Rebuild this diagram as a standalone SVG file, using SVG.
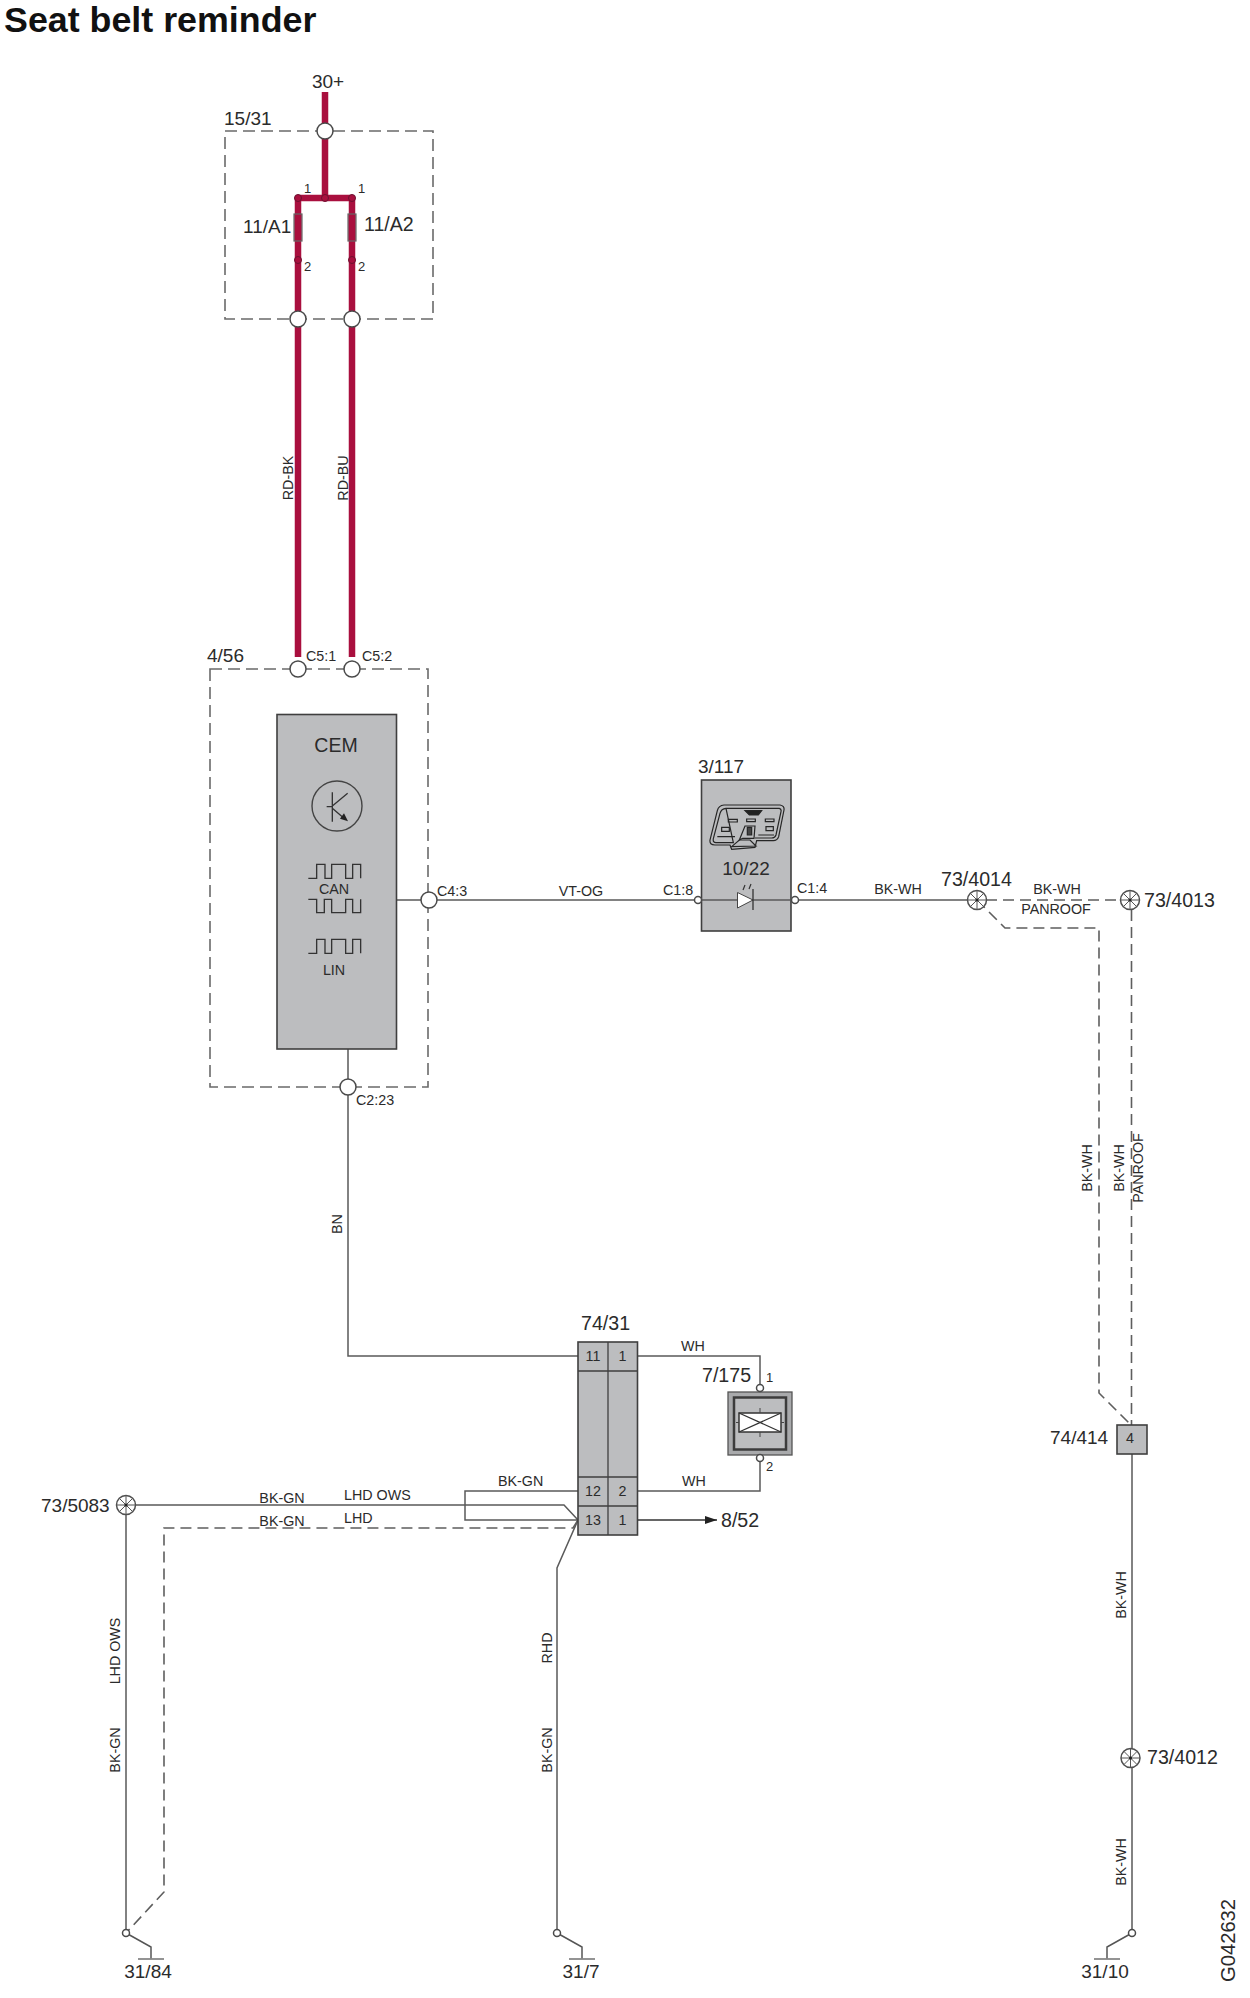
<svg xmlns="http://www.w3.org/2000/svg" xmlns:xlink="http://www.w3.org/1999/xlink" width="1250" height="1998" viewBox="0 0 1250 1998">
<style>
text{font-family:"Liberation Sans",Arial,sans-serif;fill:#2b2b2b}
.l{font-size:19px}
.ll{font-size:19.600px}
.s{font-size:14.300px}
.xs{font-size:13px}
.m{text-anchor:middle}
.w{fill:none;stroke:#5a5a5a;stroke-width:1.5}
.wk{fill:none;stroke:#333;stroke-width:1.3}
.d{fill:none;stroke:#5e5e5e;stroke-width:1.6;stroke-dasharray:11 6}
.r{fill:none;stroke:#a90f3e;stroke-width:6.500}
.b{fill:none;stroke:#6a6a6a;stroke-width:1.6;stroke-dasharray:12 6}
.g{fill:#bcbdbf;stroke:#3f3f3f;stroke-width:1.6}
.c{fill:#fff;stroke:#4a4a4a;stroke-width:1.5}
.dot{fill:#a90f3e;stroke:#6d1030;stroke-width:1}
.ic{fill:none;stroke:#333;stroke-width:4}
</style>
<defs>
<g id="star"><circle r="9.500" fill="#fff" stroke="#505050" stroke-width="1.5"/><path d="M-9.500 0H9.500M0-9.500V9.500M-6.700-6.700L6.700 6.700M-6.700 6.700L6.700-6.700" stroke="#555" stroke-width="1" fill="none"/><circle r="1.600" fill="#222"/></g>
<g id="gnd"><path d="M0 0L25 14V26" fill="none" stroke="#555" stroke-width="1.5"/><path d="M12 26H38" fill="none" stroke="#888" stroke-width="1.800"/><circle r="3.500" class="c"/></g>
<g id="gndr"><path d="M0 0L-25 14V26" fill="none" stroke="#555" stroke-width="1.5"/><path d="M-38 26H-12" fill="none" stroke="#888" stroke-width="1.800"/><circle r="3.500" class="c"/></g>
<marker id="arr" markerWidth="12" markerHeight="8" refX="12" refY="4" orient="auto" markerUnits="userSpaceOnUse"><path d="M0 0L12 4L0 8Z" fill="#222"/></marker>
<path id="wave" d="M355 745H380V703H405V745H425V703H467V745H488V703H512V745" fill="none" stroke="#333" stroke-width="4"/>
</defs>
<g id="title"><text x="4" y="32" font-size="35.800" font-weight="bold" style="fill:#111">Seat belt reminder</text></g>
<g id="connectors">
<path class="r" d="M325 92V198M298 198H352M298 198V657M352 198V657"/>
<path class="w" d="M397 900H694M799 900H968M348 1049V1356H578M638 1356H760V1385M760 1461V1491H638M578 1491H465V1520H578M135 1505H564L578 1520M578 1520L557 1568V1930M126 1514V1930M1132 1434V1749M1132 1767V1930"/>
<path class="wk" d="M638 1520H717" marker-end="url(#arr)"/>
<path class="d" d="M986 900H1120M977 900L1005 928H1099V1393L1131 1425M1131.500 910V1425M578 1520L573 1528H164V1892L126 1933"/>
</g>
<g id="n-15-31"><rect x="225" y="131" width="208" height="188" class="b"/><circle cx="325" cy="131" r="8" class="c"/><circle cx="298" cy="319" r="8" class="c"/><circle cx="352" cy="319" r="8" class="c"/><text x="224" y="125" class="l">15/31</text><text x="328" y="88" class="l m">30+</text></g>
<g id="n-fuses"><rect x="294" y="214" width="8" height="27" fill="#a90f3e" fill-opacity=".8" stroke="#666" stroke-width="1.2"/><rect x="348" y="214" width="8" height="27" fill="#a90f3e" fill-opacity=".8" stroke="#666" stroke-width="1.2"/><circle cx="298" cy="198" r="3.500" class="dot"/><circle cx="325" cy="198" r="3.500" class="dot"/><circle cx="352" cy="198" r="3.500" class="dot"/><circle cx="298" cy="260" r="3.500" class="dot"/><circle cx="352" cy="260" r="3.500" class="dot"/><text x="243" y="233" class="l">11/A1</text><text x="364" y="231" class="ll">11/A2</text><text x="304" y="193" class="xs">1</text><text x="358" y="193" class="xs">1</text><text x="304" y="271" class="xs">2</text><text x="358" y="271" class="xs">2</text></g>
<g id="wire-labels"><text transform="translate(293 478) rotate(-90)" class="s m">RD-BK</text><text transform="translate(348 478) rotate(-90)" class="s m">RD-BU</text><text transform="translate(342 1224) rotate(-90)" class="s m">BN</text><text x="581" y="896" class="s m">VT-OG</text><text x="898" y="894" class="s m">BK-WH</text><text x="1057" y="894" class="s m">BK-WH</text><text x="1056" y="914" class="s m">PANROOF</text><text transform="translate(1092 1168) rotate(-90)" class="s m">BK-WH</text><text transform="translate(1124 1168) rotate(-90)" class="s m">BK-WH</text><text transform="translate(1143 1168) rotate(-90)" class="s m">PANROOF</text><text transform="translate(1126 1595) rotate(-90)" class="s m">BK-WH</text><text transform="translate(1126 1862) rotate(-90)" class="s m">BK-WH</text><text x="681" y="1351" class="s">WH</text><text x="682" y="1486" class="s">WH</text><text x="498" y="1486" class="s">BK-GN</text><text x="282" y="1503" class="s m">BK-GN</text><text x="282" y="1526" class="s m">BK-GN</text><text x="344" y="1500" class="s">LHD OWS</text><text x="344" y="1523" class="s">LHD</text><text transform="translate(120 1651) rotate(-90)" class="s m">LHD OWS</text><text transform="translate(120 1750) rotate(-90)" class="s m">BK-GN</text><text transform="translate(552 1648) rotate(-90)" class="s m">RHD</text><text transform="translate(552 1750) rotate(-90)" class="s m">BK-GN</text></g>
<g id="n-4-56"><rect x="210" y="669" width="218" height="418" class="b"/><rect x="277" y="714.500" width="119.500" height="334.500" class="g"/><circle cx="298" cy="669" r="8" class="c"/><circle cx="352" cy="669" r="8" class="c"/><circle cx="429" cy="900" r="8" class="c"/><circle cx="348" cy="1087" r="8" class="c"/><text x="207" y="662" class="l">4/56</text><text x="306" y="661" class="s">C5:1</text><text x="362" y="661" class="s">C5:2</text><text x="437" y="896" class="s">C4:3</text><text x="356" y="1105" class="s">C2:23</text><text x="336" y="752" font-size="19.500" class="m">CEM</text><circle cx="337" cy="806" r="25" fill="none" stroke="#444" stroke-width="1.400"/><g transform="translate(190 630) scale(.3333)"><path class="ic" d="M427 487V575M410 530H427M427 528L473 490M427 535L462 565"/><path d="M450 566L462 550L474 574Z" fill="#222"/><use href="#wave"/><path d="M355 808H380V848H403V808H425V848H467V808H488V848H512V808" fill="none" stroke="#333" stroke-width="4"/><use href="#wave" y="225"/></g><text x="334" y="894" class="s m">CAN</text><text x="334" y="975" class="s m">LIN</text></g>
<g id="n-3-117"><rect x="701.500" y="780" width="89.500" height="151" class="g"/><path d="M694 900H799" class="w"/><g transform="translate(700 790) scale(.3333)" fill="none" stroke="#262626" stroke-width="3.600"><path d="M72 45H240Q254 47 252 60L236 140Q232 152 220 152H170L165 172L95 178L90 165H45Q28 165 30 150L52 62Q56 46 72 45Z"/><path d="M78 55H238Q245 57 243 65L228 135Q225 144 215 144H165M100 158H48Q38 158 40 146L60 70Q64 56 78 55Z"/><path d="M135 62H185L175 75H148Z" fill="#222"/><path d="M85 88H112V96H85ZM140 87H166V95H140ZM196 87H222V95H196ZM65 112H88V124H65ZM198 110H220V122H198ZM118 150L135 108H165L162 145H128Z"/><path d="M142 112H155V135H142Z" fill="#444"/><path d="M52 140H105M175 135H222"/><path d="M95 170L118 150H150L168 168Z"/></g><path d="M737.500 892.500V908L753 900Z" fill="#fff" stroke="#444" stroke-width="1"/><path d="M753 889V910" stroke="#333" stroke-width="1.300"/><path d="M743 890L745 885M749 889L751 884" stroke="#333" stroke-width="1.200"/><circle cx="698" cy="900" r="3.500" class="c"/><circle cx="795" cy="900" r="3.500" class="c"/><text x="663" y="895" class="s">C1:8</text><text x="797" y="893" class="s">C1:4</text><text x="698" y="773" class="l">3/117</text><text x="746" y="875" class="l m">10/22</text></g>
<g id="n-73-4014"><use href="#star" x="977" y="900"/><text x="941" y="886" class="ll">73/4014</text></g>
<g id="n-73-4013"><use href="#star" x="1130" y="900"/><text x="1144" y="907" class="ll">73/4013</text></g>
<g id="n-74-414"><rect x="1117" y="1425" width="30" height="29" class="g"/><text x="1130" y="1443" class="s m">4</text><text x="1050" y="1444" class="l">74/414</text></g>
<g id="n-73-4012"><use href="#star" x="1130.500" y="1758"/><text x="1147" y="1764" class="ll">73/4012</text></g>
<g id="n-74-31"><rect x="578" y="1342" width="59.500" height="193" class="g"/><path d="M608 1342V1535M578 1371H637M578 1477H637M578 1506H637" fill="none" stroke="#3f3f3f" stroke-width="1.300"/><text x="593" y="1361" class="s m">11</text><text x="622.500" y="1361" class="s m">1</text><text x="593" y="1496" class="s m">12</text><text x="622.500" y="1496" class="s m">2</text><text x="593" y="1525" class="s m">13</text><text x="622.500" y="1525" class="s m">1</text><text x="581" y="1330" class="ll">74/31</text><text x="721" y="1527" class="ll">8/52</text></g>
<g id="n-7-175"><rect x="728" y="1392" width="64" height="63" fill="#a9aaac" stroke="#555" stroke-width="1.300"/><rect x="734" y="1397.500" width="52" height="52" fill="#bcbdbf" stroke="#3c3c3c" stroke-width="2.500"/><rect x="739" y="1413" width="42" height="19" fill="#fff" stroke="#333" stroke-width="1.500"/><path d="M739 1413L781 1432M739 1432L781 1413" stroke="#333" stroke-width="1.300"/><path d="M760 1408V1413M760 1432V1437M736 1422.500H739M781 1422.500H784" stroke="#444" stroke-width="1"/><circle cx="760" cy="1388" r="3.500" class="c"/><circle cx="760" cy="1458" r="3.500" class="c"/><text x="702" y="1382" class="ll">7/175</text><text x="766" y="1382" class="xs">1</text><text x="766" y="1471" class="xs">2</text></g>
<g id="n-73-5083"><use href="#star" x="126" y="1505"/><text x="41" y="1512" class="l">73/5083</text></g>
<g id="n-31-84"><use href="#gnd" x="126" y="1933"/><text x="148" y="1978" class="l m">31/84</text></g>
<g id="n-31-7"><use href="#gnd" x="557" y="1933"/><text x="581" y="1978" class="l m">31/7</text></g>
<g id="n-31-10"><use href="#gndr" x="1132" y="1933"/><text x="1105" y="1978" class="l m">31/10</text></g>
<g id="code"><text transform="translate(1235 1982) rotate(-90)" font-size="20.200">G042632</text></g>
</svg>
